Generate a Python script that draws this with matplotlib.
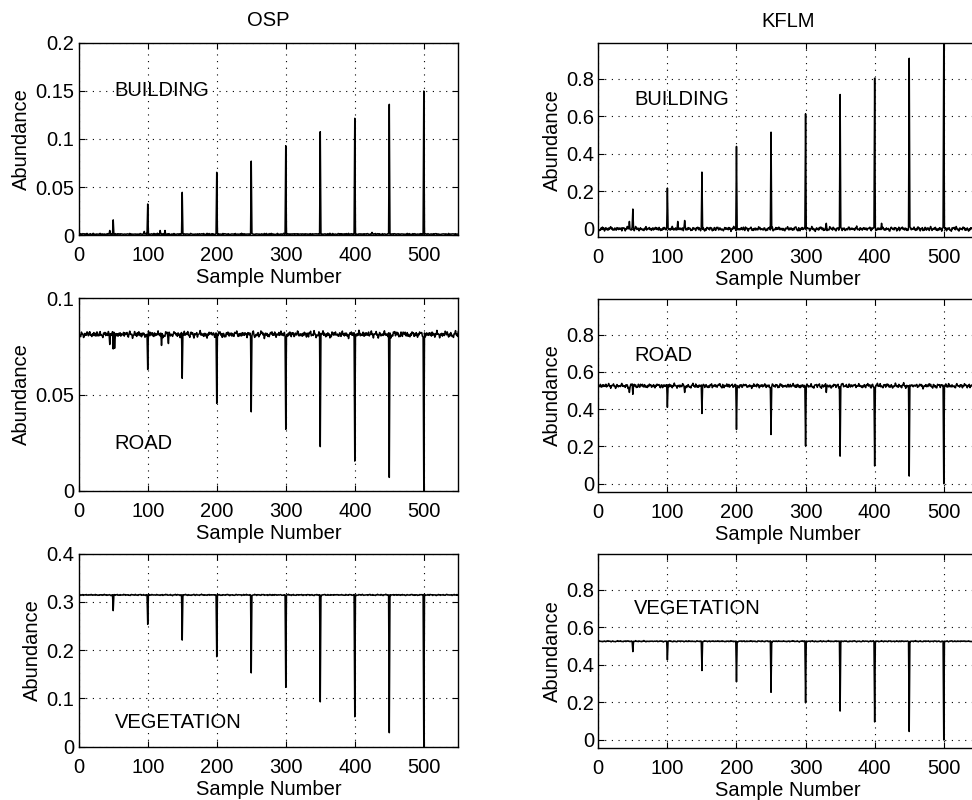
import numpy as np
import matplotlib
matplotlib.use("Agg")
import matplotlib.pyplot as plt

plt.rcParams['font.family'] = ['Liberation Sans', 'DejaVu Sans']
plt.rcParams['path.simplify'] = False

# ---- data ----
n_samples = 550
spike_pos = [50, 100, 150, 200, 250, 300, 350, 400, 450, 500]

osp_building_spikes = [0.016, 0.0325, 0.0446, 0.0654, 0.077, 0.093, 0.1076, 0.1215, 0.136, 0.1498]
kflm_building_spikes = [0.106, 0.218, 0.303, 0.44, 0.516, 0.614, 0.717, 0.804, 0.91, 0.984]
osp_road_spikes = [0.0737, 0.063, 0.0584, 0.0454, 0.041, 0.0319, 0.0229, 0.0154, 0.0069, 0.0]
kflm_road_spikes = [0.48, 0.41, 0.377, 0.291, 0.264, 0.203, 0.148, 0.095, 0.041, 0.0]
osp_veg_spikes = [0.282, 0.2535, 0.221, 0.1865, 0.153, 0.123, 0.093, 0.062, 0.029, 0.0]
kflm_veg_spikes = [0.471, 0.427, 0.37, 0.31, 0.254, 0.198, 0.154, 0.096, 0.045, 0.0]

# baseline level and noise amplitude
osp_building_base, osp_building_amp = 0.0008, 0.0015
kflm_building_base, kflm_building_amp = 0.0, 0.016
osp_road_base, osp_road_amp = 0.0812, 0.0024
kflm_road_base, kflm_road_amp = 0.525, 0.017
osp_veg_base, osp_veg_amp = 0.3145, 0.0016
kflm_veg_base, kflm_veg_amp = 0.526, 0.004

# small extra bumps (position, value)
osp_building_minor = [(45, 0.005), (95, 0.004), (118, 0.005), (125, 0.005), (425, 0.003)]
kflm_building_minor = [(45, 0.04), (115, 0.04), (125, 0.045), (330, 0.03), (410, 0.03)]
osp_road_minor = [(45, 0.076), (52, 0.074), (120, 0.0755), (130, 0.0765)]
kflm_road_minor = [(45, 0.49), (125, 0.49), (330, 0.49)]
osp_veg_minor = []
kflm_veg_minor = []

# hand-typed jitter patterns (unitless): a fast one and a slow one of different lengths
jitter_fast = [0.3, -0.5, 0.8, -0.2, 0.1, -0.9, 0.6, 0.2, -0.4, 0.7, -0.1, -0.6, 0.9, 0.0, -0.3,
               0.5, -0.8, 0.4, 0.1, -0.2, 0.6, -0.7, 0.3, -0.1, 0.8, -0.4, 0.2, -0.9, 0.5, 0.0,
               -0.5, 0.7, -0.3, 0.4, -0.6, 0.1, 0.9, -0.2, -0.8, 0.3, 0.6, -0.4, 0.0, 0.5, -0.7,
               0.2, -0.1, 0.8, -0.5, 0.4, -0.3, 0.7, -0.9, 0.1, 0.3, -0.6, 0.5, -0.2, 0.9, -0.4, 0.2]
jitter_slow = [0.2, 0.5, 0.3, -0.1, -0.4, -0.2, 0.1, 0.6, 0.4, 0.0, -0.3, -0.7, -0.5, -0.1, 0.3,
               0.2, -0.2, -0.4, 0.0, 0.5, 0.8, 0.4, 0.1, -0.2, -0.6, -0.3, 0.2, 0.3, -0.1, -0.5,
               -0.8, -0.4, 0.0, 0.4, 0.6, 0.2, -0.1, 0.1, 0.5, 0.3, -0.2, -0.6, -0.4, 0.1, 0.3,
               -0.1, -0.3, 0.2, 0.7, 0.5, 0.0, -0.4, -0.2, 0.2, 0.1, -0.3, -0.7, -0.6, -0.2, 0.3,
               0.6, 0.4, -0.1, -0.3, 0.0, 0.4, 0.2, -0.2, -0.5, -0.3, 0.1, 0.5, 0.9, 0.4, -0.1,
               -0.4, -0.2, 0.2, 0.0, -0.5, -0.3, 0.1, 0.4, 0.2, -0.2, -0.1, 0.3, 0.1, -0.3]

titles = ["OSP", "KFLM"]
labels = ["BUILDING", "ROAD", "VEGETATION"]


def build(base, amp, spikes, minor, shift, positive=False):
    jf = np.resize(np.roll(np.array(jitter_fast), shift), n_samples)
    js = np.resize(np.roll(np.array(jitter_slow), 2 * shift), n_samples)
    j = 0.55 * jf + 0.65 * js
    if positive:
        j = np.abs(j)
    y = base + amp * j
    for p, v in zip(spike_pos, spikes):
        y[p - 1] = v
    for p, v in minor:
        y[p - 1] = v
    return y


x = np.arange(1, n_samples + 1)
series = [
    [build(osp_building_base, osp_building_amp, osp_building_spikes, osp_building_minor, 0, True),
     build(kflm_building_base, kflm_building_amp, kflm_building_spikes, kflm_building_minor, 17)],
    [build(osp_road_base, osp_road_amp, osp_road_spikes, osp_road_minor, 33),
     build(kflm_road_base, kflm_road_amp, kflm_road_spikes, kflm_road_minor, 51)],
    [build(osp_veg_base, osp_veg_amp, osp_veg_spikes, osp_veg_minor, 8),
     build(kflm_veg_base, kflm_veg_amp, kflm_veg_spikes, kflm_veg_minor, 41)],
]

left_ylims = [(0, 0.2), (0, 0.1), (0, 0.4)]
left_yticks = [[0, 0.05, 0.1, 0.15, 0.2], [0, 0.05, 0.1], [0, 0.1, 0.2, 0.3, 0.4]]
left_yticklabels = [["0", "0.05", "0.1", "0.15", "0.2"], ["0", "0.05", "0.1"], ["0", "0.1", "0.2", "0.3", "0.4"]]
right_ylim = (-0.043, 0.99)
right_yticks = [0, 0.2, 0.4, 0.6, 0.8]
right_yticklabels = ["0", "0.2", "0.4", "0.6", "0.8"]
left_text_y = [0.15, 0.0246, 0.05]
right_text_y = [0.69, 0.69, 0.70]

# ---- figure ----
W, H = 972, 800
fig = plt.figure(figsize=(W / 100, H / 100), dpi=100)

left_rows = [(42.7, 235.3), (298.3, 490.7), (553.7, 746.7)]
right_rows = [(43.3, 237.0), (299.3, 491.7), (554.3, 748.0)]
lx0, lx1 = 78.7, 458.3
rx0, rx1 = 598.3, 978.3

fs = 14.5
for r in range(3):
    for c in range(2):
        if c == 0:
            top, bot = left_rows[r]
            x0, x1 = lx0, lx1
        else:
            top, bot = right_rows[r]
            x0, x1 = rx0, rx1
        ax = fig.add_axes([x0 / W, 1 - bot / H, (x1 - x0) / W, (bot - top) / H])
        ax.plot(x, series[r][c], color='black', lw=1.1)
        ax.set_xlim(0, 550)
        ax.set_xticks([0, 100, 200, 300, 400, 500])
        if c == 0:
            ax.set_ylim(*left_ylims[r])
            ax.set_yticks(left_yticks[r])
            ax.set_yticklabels(left_yticklabels[r])
            ax.text(52, left_text_y[r], labels[r], fontsize=fs, va='center', ha='left')
        else:
            ax.set_ylim(*right_ylim)
            ax.set_yticks(right_yticks)
            ax.set_yticklabels(right_yticklabels)
            ax.text(52, right_text_y[r], labels[r], fontsize=fs, va='center', ha='left')
        ax.grid(True, color='black', linestyle=(0, (1, 5)), linewidth=0.8)
        ax.tick_params(direction='in', length=4, width=0.8, labelsize=fs, top=True, right=True)
        ax.tick_params(axis='x', pad=8)
        ax.tick_params(axis='y', pad=3)
        for s in ax.spines.values():
            s.set_linewidth(1.0)
        ax.set_xlabel("Sample Number", fontsize=fs, labelpad=2)
        ax.set_ylabel("Abundance", fontsize=fs, labelpad=3)
        if r == 0:
            ax.set_title(titles[c], fontsize=fs, pad=12)

fig.savefig("out.png", dpi=100)
